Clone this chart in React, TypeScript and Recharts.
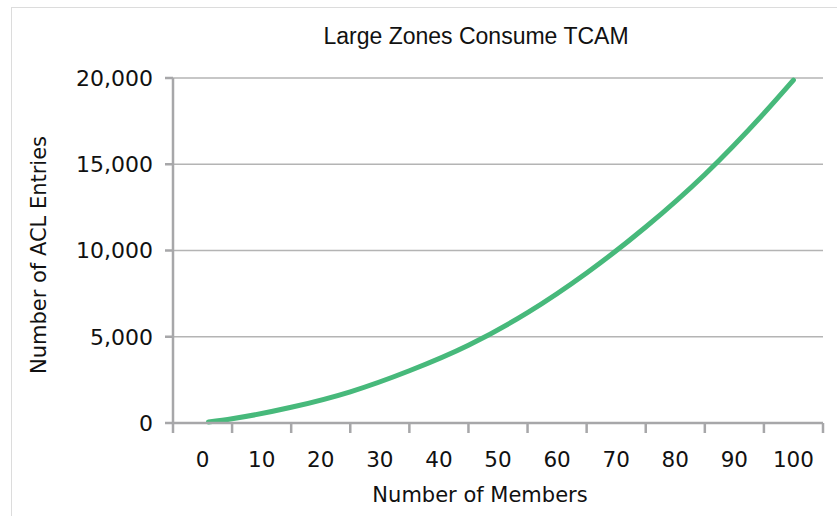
import React from 'react';
import { LineChart, Line, XAxis, YAxis, CartesianGrid } from 'recharts';

// values
const members = [1, 5, 15, 25, 35, 45, 55, 65, 75, 85, 95, 100];
const aclEntries = [60, 250, 910, 1810, 3030, 4510, 6400, 8700, 11360, 14410, 17950, 19880];

const xLabels = [0, 10, 20, 30, 40, 50, 60, 70, 80, 90, 100];
const xTickMarks = [-5, 5, 15, 25, 35, 45, 55, 65, 75, 85, 95, 105];
const yTicks = [0, 5000, 10000, 15000, 20000];

const chartData = members.map((m, i) => ({ members: m, entries: aclEntries[i] }));

const AXIS_COLOR = '#a7a7a9';
const GRID_COLOR = '#b4b4b4';
const LINE_COLOR = '#47b97b';
const TICK_FONT = '"DejaVu Sans", sans-serif';

function XTick(props: any) {
    const { x, y, payload } = props;
    const v = payload.value;
    if (v % 10 === 0) {
        return (
            <text x={x} y={y + 34} textAnchor="middle" fill="#111" fontSize={21.5} fontFamily={TICK_FONT}>
                {v}
            </text>
        );
    }
    // tick marks sit between the labels
    return <line x1={x} x2={x} y1={y - 10} y2={y} stroke={AXIS_COLOR} strokeWidth={2.5} />;
}

export default function App() {
    return (
        <div
            style={{
                position: 'absolute',
                left: 0,
                top: 0,
                width: 837,
                height: 516,
                overflow: 'hidden',
                background: '#fff',
            }}
        >
            {/* outer frame, only top and left edges are visible */}
            <div
                style={{
                    position: 'absolute',
                    left: 11,
                    top: 7,
                    width: 900,
                    height: 600,
                    border: '1.5px solid #dcdcdc',
                }}
            />

            <div
                style={{
                    position: 'absolute',
                    left: 0,
                    width: 952,
                    top: 23,
                    textAlign: 'center',
                    fontFamily: '"Liberation Sans", Arial, sans-serif',
                    fontSize: 23,
                    color: '#111',
                }}
            >
                Large Zones Consume TCAM
            </div>

            <div
                style={{
                    position: 'absolute',
                    left: 39,
                    top: 255,
                    transform: 'translate(-50%, -50%) rotate(-90deg)',
                    whiteSpace: 'nowrap',
                    fontFamily: TICK_FONT,
                    fontSize: 21,
                    color: '#111',
                }}
            >
                Number of ACL Entries
            </div>

            <div
                style={{
                    position: 'absolute',
                    left: 480,
                    top: 495,
                    transform: 'translate(-50%, -50%)',
                    whiteSpace: 'nowrap',
                    fontFamily: TICK_FONT,
                    fontSize: 21,
                    color: '#111',
                }}
            >
                Number of Members
            </div>

            <div style={{ position: 'absolute', left: 0, top: 0 }}>
                <LineChart
                    width={837}
                    height={516}
                    data={chartData}
                    margin={{ top: 78, right: 14, left: 73, bottom: 23 }}
                >
                    <CartesianGrid vertical={false} stroke={GRID_COLOR} strokeWidth={1.5} />

                    <XAxis
                        dataKey="members"
                        type="number"
                        domain={[-5, 105]}
                        ticks={[...xTickMarks, ...xLabels].sort((a, b) => a - b)}
                        interval={0}
                        height={70}
                        tickLine={false}
                        tickSize={10}
                        tickMargin={0}
                        tick={<XTick />}
                        axisLine={{ stroke: AXIS_COLOR, strokeWidth: 2.5 }}
                    />

                    <YAxis
                        type="number"
                        domain={[0, 20000]}
                        ticks={yTicks}
                        width={100}
                        tickSize={8}
                        tickMargin={12}
                        tickFormatter={(v: number) => v.toLocaleString('en-US')}
                        tick={{ fill: '#111', fontSize: 22, fontFamily: TICK_FONT }}
                        tickLine={{ stroke: AXIS_COLOR, strokeWidth: 2.5 }}
                        axisLine={{ stroke: AXIS_COLOR, strokeWidth: 2.5 }}
                    />

                    <Line
                        type="monotone"
                        dataKey="entries"
                        stroke={LINE_COLOR}
                        strokeWidth={5}
                        strokeLinecap="round"
                        dot={false}
                        isAnimationActive={false}
                    />
                </LineChart>
            </div>
        </div>
    );
}
